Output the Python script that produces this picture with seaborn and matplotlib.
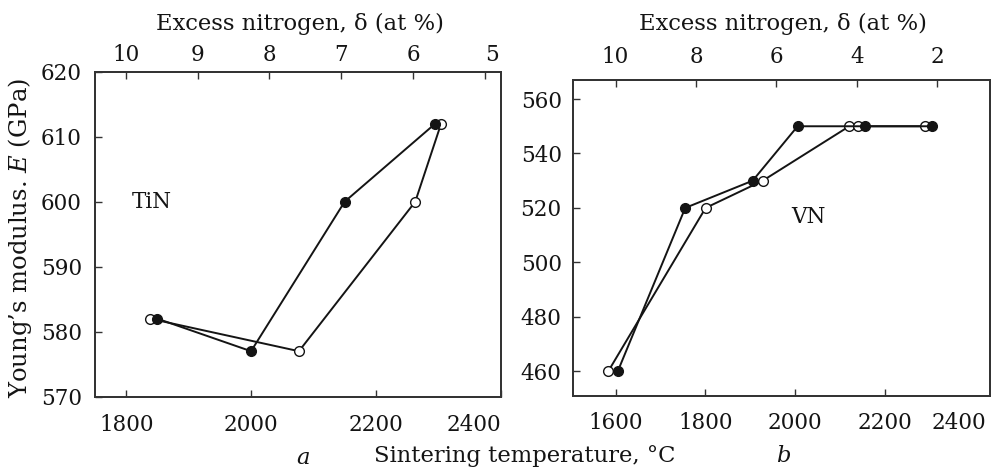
import matplotlib
matplotlib.use("Agg")
import matplotlib.pyplot as plt
from matplotlib.transforms import ScaledTranslation
import seaborn as sns
import pandas as pd

# ---- data -------------------------------------------------------------
# TiN: Young's modulus vs sintering temperature (filled) and vs excess nitrogen (open)
tin_temp = [1850, 2000, 2150, 2295]
tin_e_temp = [582, 577, 600, 612]
tin_delta = [9.66, 7.59, 5.97, 5.61]
tin_e_delta = [582, 577, 600, 612]

# VN: same quantities
vn_temp = [1605, 1755, 1905, 2005, 2155, 2305]
vn_e_temp = [460, 520, 530, 550, 550, 550]
vn_delta = [10.18, 7.76, 6.34, 4.19, 3.96, 2.31]
vn_e_delta = [460, 520, 530, 550, 550, 550]

tin_temp_ticks = [1800, 2000, 2200, 2400]
tin_delta_ticks = [10, 9, 8, 7, 6, 5]
tin_e_ticks = [570, 580, 590, 600, 610, 620]
vn_temp_ticks = [1600, 1800, 2000, 2200, 2400]
vn_delta_ticks = [10, 8, 6, 4, 2]
vn_e_ticks = [460, 480, 500, 520, 540, 560]

# ---- style ------------------------------------------------------------
sns.set_theme(style="ticks")
plt.rcParams["font.family"] = ["DejaVu Serif"]
plt.rcParams["mathtext.fontset"] = "dejavuserif"

INK = "#141414"
SPINE = "#333333"
TICK_FS = 15.5
LAB_FS = 16.3

fig = plt.figure(figsize=(9.92, 4.68), dpi=100)


def panel(rect, temp, e_temp, delta, e_delta, xlim, dlim, ylim,
          tticks, dticks, eticks, top_pad, ylab_pad, bot_pad):
    ax = fig.add_axes(rect)
    top = ax.twiny()
    # filled series drawn above the open one
    top.set_zorder(ax.get_zorder() - 1)
    ax.patch.set_visible(False)

    df_t = pd.DataFrame({"T": temp, "E": e_temp})
    df_d = pd.DataFrame({"d": delta, "E": e_delta})
    sns.lineplot(data=df_t, x="T", y="E", ax=ax, sort=False, color=INK,
                 lw=1.4, marker="o", markersize=7, markerfacecolor=INK,
                 markeredgecolor=INK, markeredgewidth=1.0)
    sns.lineplot(data=df_d, x="d", y="E", ax=top, sort=False, color=INK,
                 lw=1.4, marker="o", markersize=7, markerfacecolor="white",
                 markeredgecolor=INK, markeredgewidth=1.0)

    ax.set_xlim(*xlim)
    ax.set_ylim(*ylim)
    top.set_xlim(*dlim)
    top.set_ylim(*ylim)

    ax.set_xticks(tticks)
    ax.set_yticks(eticks)
    top.set_xticks(dticks)
    ax.set_xlabel("")
    ax.set_ylabel("")
    top.set_xlabel("")
    top.set_ylabel("")

    for a in (ax, top):
        for s in a.spines.values():
            s.set_color(SPINE)
            s.set_linewidth(1.3)
            s.set_visible(True)

    ax.tick_params(axis="x", which="both", direction="in", length=5, width=1,
                   color=SPINE, bottom=True, top=False, labelbottom=True,
                   labeltop=False, pad=bot_pad, labelsize=TICK_FS,
                   labelcolor=INK)
    ax.tick_params(axis="y", which="both", direction="in", length=5, width=1,
                   color=SPINE, left=True, right=False, pad=ylab_pad,
                   labelsize=TICK_FS, labelcolor=INK)
    top.tick_params(axis="x", which="both", direction="in", length=5, width=1,
                    color=SPINE, top=True, bottom=False, labeltop=True,
                    labelbottom=False, pad=top_pad, labelsize=TICK_FS,
                    labelcolor=INK)
    top.tick_params(axis="y", left=False, right=False, labelleft=False,
                    labelright=False)
    return ax, top


# (a) TiN
axa, topa = panel([95 / 992, 1 - 396.7 / 468, 405.7 / 992, 325 / 468],
                  tin_temp, tin_e_temp, tin_delta, tin_e_delta,
                  (1750, 2400), (10.43, 4.78), (570, 620),
                  tin_temp_ticks, tin_delta_ticks, tin_e_ticks,
                  top_pad=4.3, ylab_pad=9.5, bot_pad=12.5)
axa.text(0.14, 0.60, "TiN", transform=axa.transAxes, fontsize=TICK_FS,
         color=INK, ha="center", va="center")

# (b) VN
axb, topb = panel([573.3 / 992, 1 - 395.7 / 468, 416.7 / 992, 315.7 / 468],
                  vn_temp, vn_e_temp, vn_delta, vn_e_delta,
                  (1506, 2433), (11.05, 0.69), (451, 567),
                  vn_temp_ticks, vn_delta_ticks, vn_e_ticks,
                  top_pad=8.4, ylab_pad=8.4, bot_pad=12.0)
axb.text(0.565, 0.565, "VN", transform=axb.transAxes, fontsize=TICK_FS,
         color=INK, ha="center", va="center")


def nudge(label, dx_px):
    label.set_transform(label.get_transform() +
                        ScaledTranslation(dx_px / 100, 0, fig.dpi_scale_trans))


# keep the end labels clear of the panel edges
fig.canvas.draw()
nudge(axa.get_xticklabels()[-1], -27)
nudge(axb.get_xticklabels()[-1], -16)
nudge(topa.get_xticklabels()[-1], 7)
axb.xaxis.get_major_ticks()[-1].tick1line.set_visible(False)

# axis titles
fig.text(300 / 992, 1 - 24 / 468, "Excess nitrogen, δ (at %)", fontsize=LAB_FS,
         color=INK, ha="center", va="center")
fig.text(783 / 992, 1 - 24 / 468, "Excess nitrogen, δ (at %)", fontsize=LAB_FS,
         color=INK, ha="center", va="center")
fig.text(20 / 992, 1 - 238 / 468, "Young’s modulus. $\\mathit{E}$ (GPa)",
         fontsize=17.5, color=INK, ha="center", va="center", rotation=90)
fig.text(525 / 992, 1 - 456 / 468, "Sintering temperature, °C", fontsize=LAB_FS,
         color=INK, ha="center", va="center")
fig.text(303 / 992, 1 - 458 / 468, "a", fontsize=LAB_FS, color=INK,
         ha="center", va="center", style="italic")
fig.text(783 / 992, 1 - 456 / 468, "b", fontsize=LAB_FS, color=INK,
         ha="center", va="center", style="italic")

fig.savefig("out.png", dpi=100, facecolor="white")
